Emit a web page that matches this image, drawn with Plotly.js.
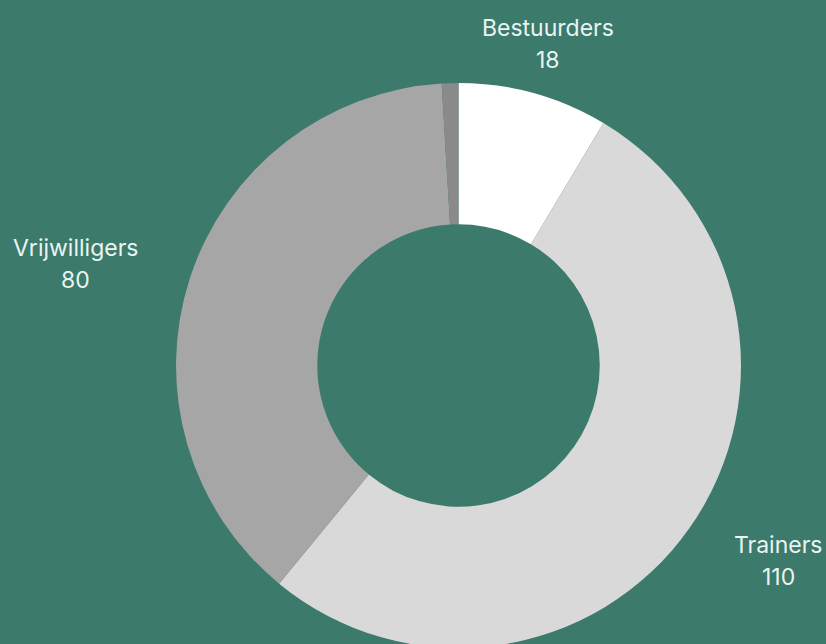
<!DOCTYPE html>
<html>
<head>
<meta charset="utf-8">
<script src="https://cdn.plot.ly/plotly-3.0.1.min.js"></script>
<style>
html,body{margin:0;padding:0;overflow:hidden;background:#3c7a6b;width:826px;height:644px;}
#chart{width:826px;height:660px;}
</style>
</head>
<body>
<div id="chart"></div>
<script>
const categories = ["Bestuurders", "Trainers", "Vrijwilligers", "Overig"];
const values = [18, 110, 80, 2];
const colors = ["#ffffff", "#d9d9d9", "#a6a6a6", "#8a8a8a"];
const labelNames = ["Bestuurders", "Trainers", "Vrijwilligers"];
const labelValues = ["18", "110", "80"];
// label centres in pixels (x, y of name line, y of value line)
const labelPix = [[548, 28, 60], [778, 545, 577], [75, 248, 280]];

const W = 826, H = 660;
const trace = {
  type: "pie",
  labels: categories,
  values: values,
  sort: false,
  direction: "clockwise",
  rotation: 0,
  hole: 0.5,
  textinfo: "none",
  hoverinfo: "label+value",
  marker: {colors: colors, line: {width: 0}},
  domain: {x: [0.2131, 0.8971], y: [0.0182, 0.8742]},
  showlegend: false
};
const font = {family: "Inter, sans-serif", size: 23, color: "#e9f5f1"};
const annotations = [];
labelNames.forEach((n, i) => {
  const [px, py1, py2] = labelPix[i];
  annotations.push({text: n, xref: "paper", yref: "paper", x: px / W, y: (H - py1) / H,
    xanchor: "center", yanchor: "middle", showarrow: false, font: font});
  annotations.push({text: labelValues[i], xref: "paper", yref: "paper", x: px / W, y: (H - py2) / H,
    xanchor: "center", yanchor: "middle", showarrow: false, font: font});
});
const layout = {
  width: W, height: H,
  margin: {l: 0, r: 0, t: 0, b: 0},
  paper_bgcolor: "#3c7a6b",
  plot_bgcolor: "#3c7a6b",
  annotations: annotations
};
Plotly.newPlot("chart", [trace], layout, {displayModeBar: false, staticPlot: true});
</script>
</body>
</html>
